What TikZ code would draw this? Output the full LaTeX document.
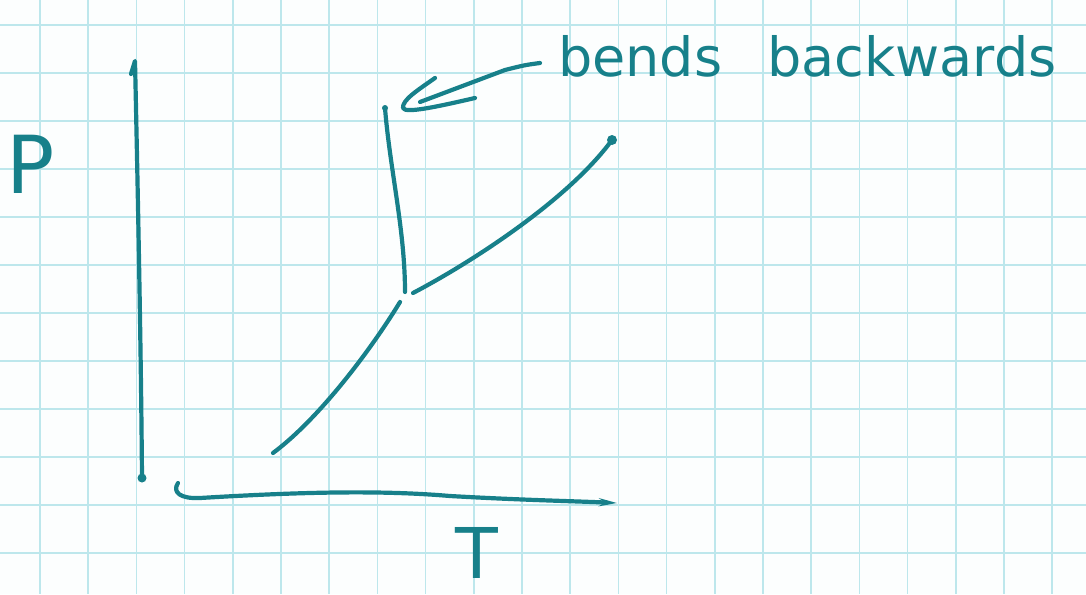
\documentclass[tikz,border=0pt]{standalone}
\usepackage{fontspec}
\setmainfont{DejaVu Sans}
\usetikzlibrary{arrows.meta}
\definecolor{ink}{HTML}{17808A}
\definecolor{gridc}{HTML}{BDE7EC}
\definecolor{paper}{HTML}{FCFEFE}
\begin{document}
\begin{tikzpicture}[x=1pt,y=-1pt,
  inkline/.style={draw=ink,line width=4.2pt,line cap=round,line join=round},
  lbl/.style={text=ink,inner sep=0pt},
  gridline/.style={draw=gridc,line width=1.7pt}]
\fill[paper] (0,0) rectangle (1086,594);
\useasboundingbox (0,0) rectangle (1086,594);
% graph paper
\foreach \k in {0,...,21} \draw[gridline] ({40+48.2*\k},0) -- ({40+48.2*\k},594);
\foreach \k in {0,...,11} \draw[gridline] (0,{25+48*\k}) -- (1086,{25+48*\k});
% labels
\node[lbl,font=\fontsize{80}{80}\selectfont,anchor=base] (P) at (31,193) {P};
\node[lbl,font=\fontsize{70}{70}\selectfont,anchor=base,text depth=0pt] (T) at (477,578) {T};
\node[lbl,font=\fontsize{54}{54}\selectfont,anchor=base west] (lab) at (558,76) {bends\hspace{45pt}backwards};
% axes
\coordinate (yaxtop) at (135,61);
\coordinate (origin) at (142,478);
\draw[inkline] (131,74) -- (yaxtop) .. controls (138,200) and (141,350) .. (origin);
\fill[ink] (origin) circle (4.5);
\coordinate (xstart) at (178,483);
\coordinate (xend) at (617,503);
\draw[inkline,-{Stealth[length=18pt,width=8pt]}] (xstart) .. controls (172,492) and (180,499) .. (200,498)
  .. controls (300,492) and (380,490) .. (450,496) .. controls (520,500) and (570,501) .. (xend);
% phase boundaries
\coordinate (sbot) at (273,453);
\coordinate (stop) at (400,302);
\coordinate (mtop) at (385,108);
\coordinate (mbot) at (405,292);
\coordinate (vbot) at (413,293);
\coordinate (vtop) at (612,140);
\draw[inkline] (sbot) .. controls (320,418) and (372,348) .. (stop);
\draw[inkline] (mtop) .. controls (390,170) and (405,230) .. (mbot);
\draw[inkline] (vbot) .. controls (472,262) and (568,200) .. (vtop);
\fill[ink] (vtop) circle (5);
\fill[ink] (mtop) circle (3);
% arrow from label to top of melting curve
\coordinate (arrtip) at (403,108);
\draw[inkline] ([xshift=-18pt,yshift=13pt]lab.base west) .. controls (525,65) .. (505,70) -- (420,102);
\draw[inkline] (435,78) .. controls (418,90) and (402,100) .. (arrtip) .. controls (405,114) and (440,106) .. (475,98);
\end{tikzpicture}
\end{document}
